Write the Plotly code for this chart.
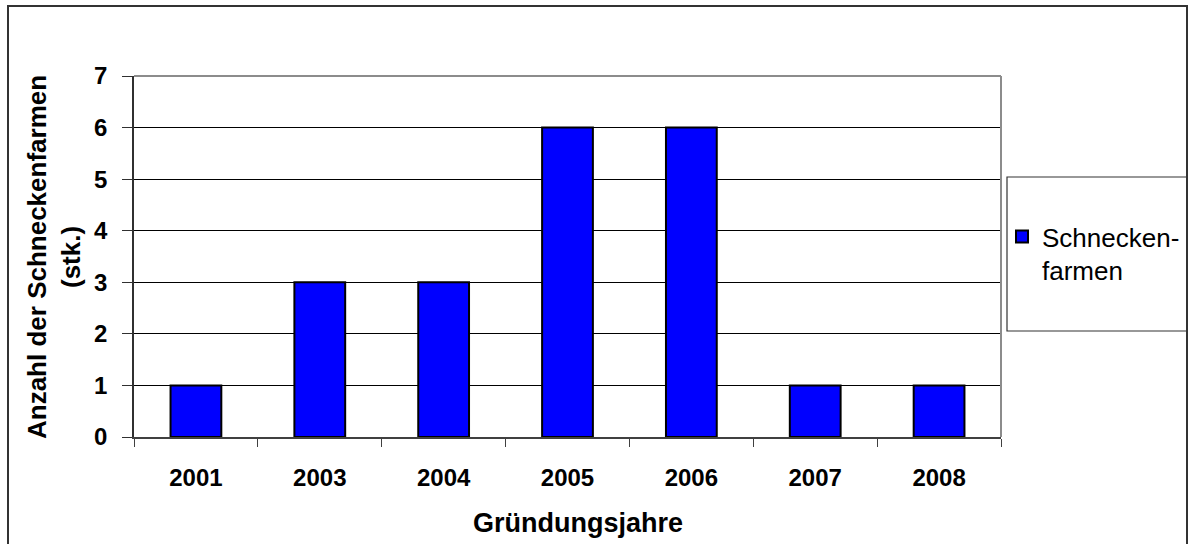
import plotly.graph_objects as go

# Founding years and number of snail farms founded in each year
years = ["2001", "2003", "2004", "2005", "2006", "2007", "2008"]
farms = [1, 3, 3, 6, 6, 1, 1]
series_name = "Schnecken-<br>farmen"
x_title = "Gründungsjahre"
y_title = "Anzahl der Schneckenfarmen<br>(stk.)"
y_ticks = [0, 1, 2, 3, 4, 5, 6, 7]

FONT = "Liberation Sans, Arial, sans-serif"

W, H = 1188, 544
L, R, T, B = 134, 1001, 76, 437  # plot area in pixels


def px(xp):
    return (xp - L) / (R - L)


def py(yp):
    return (B - yp) / (B - T)


fig = go.Figure()
fig.add_trace(go.Bar(
    x=years,
    y=farms,
    name=series_name,
    marker=dict(color="#0000FF", line=dict(color="#000000", width=2)),
    showlegend=True,
))

fig.update_layout(
    width=W,
    height=H,
    margin=dict(l=L, r=W - R, t=T, b=H - B, pad=0, autoexpand=False),
    paper_bgcolor="white",
    plot_bgcolor="white",
    bargap=0.59,
    font=dict(family=FONT, color="black"),
    xaxis=dict(
        type="category",
        showgrid=False,
        showline=True,
        linecolor="#404040",
        linewidth=1.5,
        ticks="outside",
        tickson="boundaries",
        ticklen=8,
        tickcolor="#404040",
        tickwidth=1,
        tickfont=dict(family=FONT, size=24, weight="bold", color="black"),
        ticklabelstandoff=18,
    ),
    yaxis=dict(
        range=[0, 7],
        tickvals=y_ticks,
        showgrid=True,
        gridcolor="#000000",
        gridwidth=1,
        zeroline=False,
        showline=True,
        linecolor="#303030",
        linewidth=1.5,
        ticks="outside",
        ticklen=10,
        tickcolor="#303030",
        tickwidth=1,
        tickfont=dict(family=FONT, size=24, weight="bold", color="black"),
        ticklabelstandoff=10,
    ),
    legend=dict(
        x=px(1002),
        y=py(213),
        xanchor="left",
        yanchor="top",
        valign="top",
        bgcolor="rgba(0,0,0,0)",
        borderwidth=0,
        font=dict(family=FONT, size=26, color="black"),
    ),
    annotations=[
        dict(
            text=x_title, xref="paper", yref="paper",
            x=px(578), y=py(523), xanchor="center", yanchor="middle",
            showarrow=False,
            font=dict(family=FONT, size=27, weight="bold", color="black"),
        ),
        dict(
            text=y_title, xref="paper", yref="paper",
            x=px(54), y=py(257), xanchor="center", yanchor="middle",
            textangle=-90, showarrow=False,
            font=dict(family=FONT, size=26, weight="bold", color="black"),
        ),
    ],
    shapes=[
        # grey frame on the top and right of the plot area
        dict(type="line", xref="paper", yref="paper", x0=0, x1=1, y0=1, y1=1,
             line=dict(color="#8c8c8c", width=2), layer="above"),
        dict(type="line", xref="paper", yref="paper", x0=1, x1=1, y0=0, y1=1,
             line=dict(color="#8c8c8c", width=2), layer="above"),
        # legend box
        dict(type="rect", xref="paper", yref="paper",
             x0=px(1007), x1=px(1200), y0=py(331), y1=py(177),
             line=dict(color="#333333", width=1.2), layer="above"),
        # chart frame
        dict(type="rect", xref="paper", yref="paper",
             x0=px(8), x1=px(1187), y0=py(560), y1=py(6),
             line=dict(color="#333333", width=2), layer="above"),
    ],
)

fig.write_html("out.html")
